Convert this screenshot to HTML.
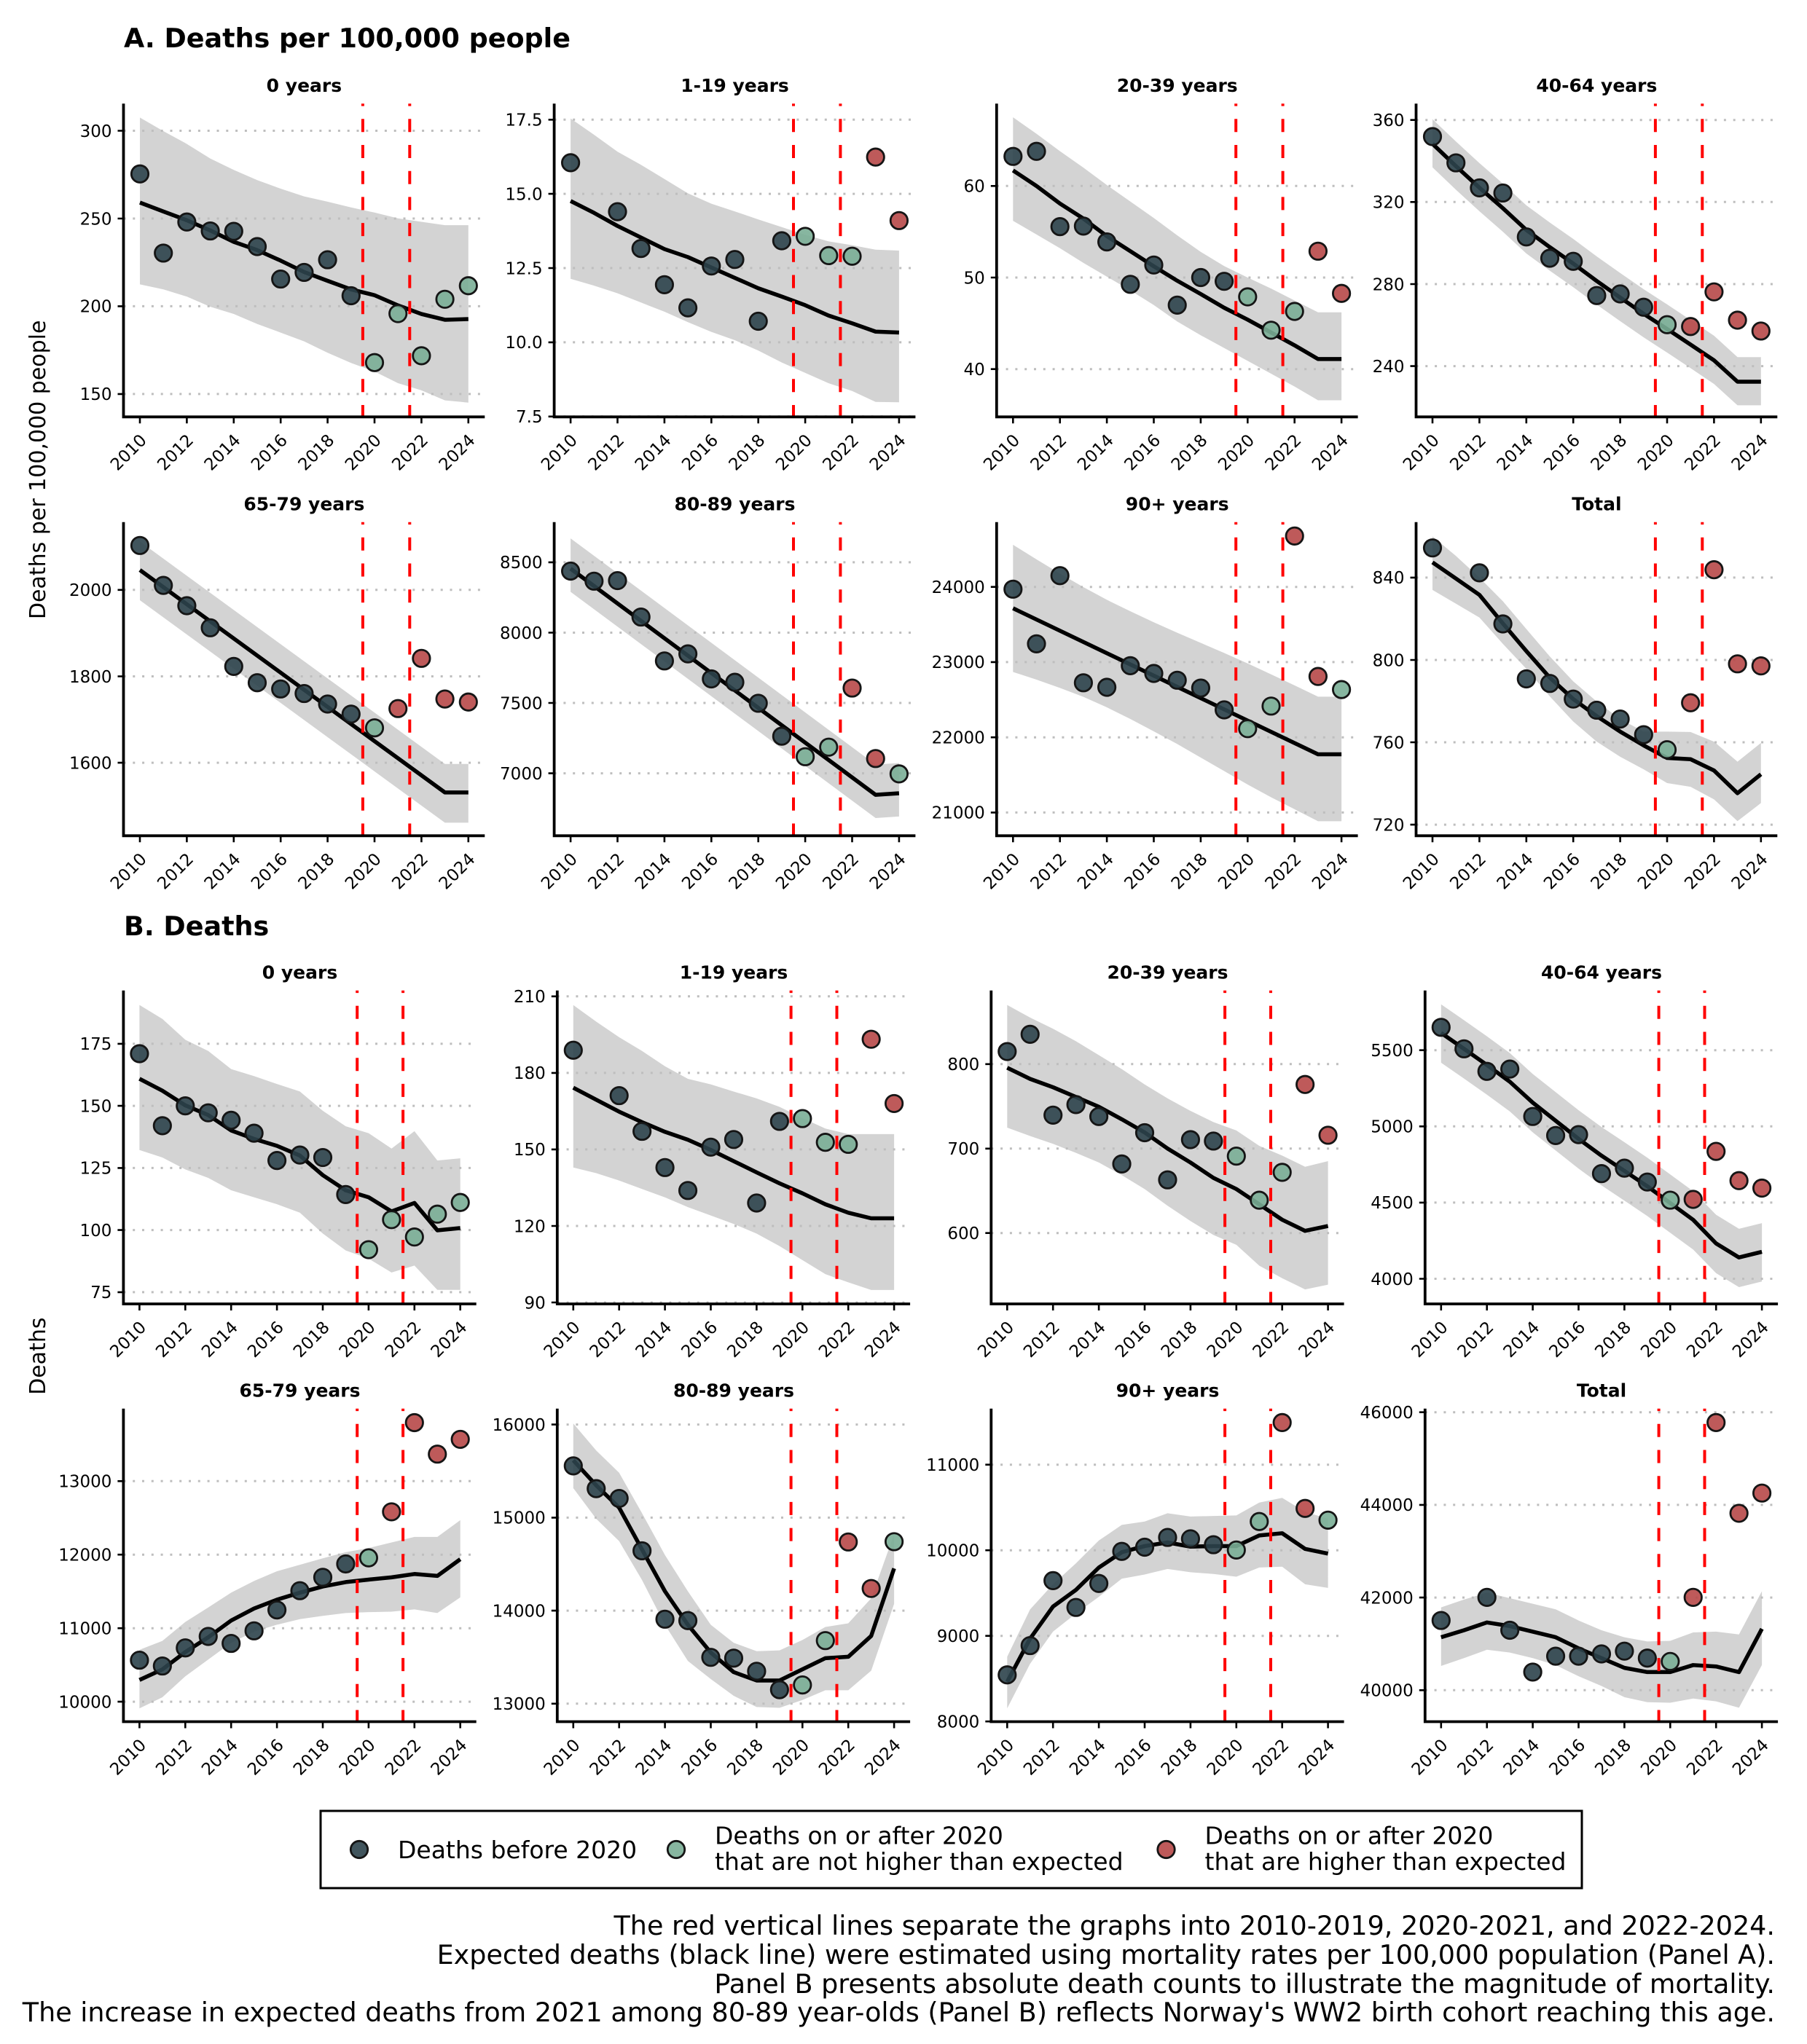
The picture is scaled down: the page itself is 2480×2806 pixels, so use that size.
<!DOCTYPE html>
<html><head><meta charset="utf-8"><style>
html,body{margin:0;padding:0;background:#fff}
svg{display:block}
text{font-family:"DejaVu Sans","Liberation Sans",sans-serif;fill:#000}
.yl{font-size:23px;text-anchor:end}
.xl{font-size:23px;text-anchor:end}
.ft{font-size:25px;font-weight:bold;text-anchor:middle}
.grid{fill:none;stroke:#BEBEBE;stroke-width:3;stroke-dasharray:3 9.8}
.red{fill:none;stroke:#FF0000;stroke-width:4;stroke-dasharray:18 17.7;stroke-dashoffset:14.7}
.rib{fill:#D3D3D3;stroke:none}
.ln{fill:none;stroke:#000;stroke-width:5.5;stroke-linejoin:round}
.ax{fill:none;stroke:#000;stroke-width:3.8}
.tm{fill:none;stroke:#000;stroke-width:2.6}
.d{fill:#2C424B}.g{fill:#7AAE96}.r{fill:#B74848}
.lg{font-size:33px}
.fn{font-size:36.5px;text-anchor:end}
</style></head><body>
<svg width="2480" height="2806" viewBox="0 0 2480 2806" xmlns="http://www.w3.org/2000/svg">
<defs>
<circle id="pt" r="11.7" stroke="#151515" stroke-width="2.8" fill-opacity="0.9"/>
<g id="pA1"><use href="#pt" transform="scale(0.031056,-0.41506)"/></g>
<g id="pA2"><use href="#pt" transform="scale(0.031056,-0.02454)"/></g>
<g id="pA3"><use href="#pt" transform="scale(0.031056,-0.079548)"/></g>
<g id="pA4"><use href="#pt" transform="scale(0.031056,-0.35518)"/></g>
<g id="pA5"><use href="#pt" transform="scale(0.031056,-1.68569)"/></g>
<g id="pA6"><use href="#pt" transform="scale(0.031056,-5.1784)"/></g>
<g id="pA7"><use href="#pt" transform="scale(0.031056,-9.68804)"/></g>
<g id="pA8"><use href="#pt" transform="scale(0.031056,-0.35376)"/></g>
<g id="pB1"><use href="#pt" transform="scale(0.031797,-0.29326)"/></g>
<g id="pB2"><use href="#pt" transform="scale(0.031797,-0.28557)"/></g>
<g id="pB3"><use href="#pt" transform="scale(0.031797,-0.86237)"/></g>
<g id="pB4"><use href="#pt" transform="scale(0.031797,-4.77966)"/></g>
<g id="pB5"><use href="#pt" transform="scale(0.031797,-9.90884)"/></g>
<g id="pB6"><use href="#pt" transform="scale(0.031797,-7.83024)"/></g>
<g id="pB7"><use href="#pt" transform="scale(0.031797,-8.51136)"/></g>
<g id="pB8"><use href="#pt" transform="scale(0.031797,-15.725)"/></g>
</defs>
<rect width="2480" height="2806" fill="#fff"/>

<text x="170" y="65" style="font-size:36.5px;font-weight:bold">A. Deaths per 100,000 people</text>
<text x="170" y="1284" style="font-size:36.5px;font-weight:bold">B. Deaths</text>
<text transform="translate(62,644.8) rotate(-90)" style="font-size:30px;text-anchor:middle">Deaths per 100,000 people</text>
<text transform="translate(62,1861.7) rotate(-90)" style="font-size:30px;text-anchor:middle">Deaths</text>

<!-- ============ A1 ============ -->
<g>
<g transform="matrix(32.2 0 0 -2.4093 192 902.29)"><polygon class="rib" points="0,307.5 1,299.8 2,292.5 3,284.2 4,277.7 5,271.9 6,267 7,262.6 8,259.6 9,256.3 10,253.4 11,250.1 12,248.1 13,246.2 14,246.2 14,145.1 13,146.4 12,152.1 11,156.2 10,162.8 9,167.7 8,173.5 7,180 6,185 5,189.9 4,195.6 3,199.7 2,205.5 1,209.6 0,212.5"/></g>
<path class="grid" d="M169.5 540.9H665.3M169.5 420.4H665.3M169.5 300H665.3M169.5 179.5H665.3"/>
<g transform="matrix(32.2 0 0 -2.4093 192 902.29)"><polyline class="ln" vector-effect="non-scaling-stroke" points="0,259.1 1,254 2,249 3,243.2 4,236.7 5,232 6,226 7,219.5 8,214.5 9,209.6 10,206.3 11,200.5 12,195.6 13,192.3 14,192.7"/></g>
<path class="red" d="M497.9 142.3V572.3M562.3 142.3V572.3"/>
<g transform="matrix(32.2 0 0 -2.4093 192 902.29)">
<use href="#pA1" x="0" y="275.4" class="d"/><use href="#pA1" x="1" y="230.3" class="d"/><use href="#pA1" x="2" y="248" class="d"/><use href="#pA1" x="3" y="242.9" class="d"/><use href="#pA1" x="4" y="242.7" class="d"/><use href="#pA1" x="5" y="234" class="d"/><use href="#pA1" x="6" y="215.5" class="d"/><use href="#pA1" x="7" y="219.3" class="d"/><use href="#pA1" x="8" y="226.5" class="d"/><use href="#pA1" x="9" y="206" class="d"/>
<use href="#pA1" x="10" y="167.9" class="g"/><use href="#pA1" x="11" y="195.8" class="g"/><use href="#pA1" x="12" y="171.8" class="g"/><use href="#pA1" x="13" y="204" class="g"/><use href="#pA1" x="14" y="211.7" class="g"/>
</g>
<path class="ax" d="M169.5 142.3V572.3H665.3"/>
<path class="tm" d="M161.5 540.9H169.5M161.5 420.4H169.5M161.5 300H169.5M161.5 179.5H169.5"/>
<text class="yl" x="153.5" y="549.2">150</text><text class="yl" x="153.5" y="428.7">200</text><text class="yl" x="153.5" y="308.3">250</text><text class="yl" x="153.5" y="187.8">300</text>
<g transform="translate(192,572.3)"><path class="tm" d="M0 0v9M64.4 0v9M128.8 0v9M193.2 0v9M257.6 0v9M322 0v9M386.4 0v9M450.8 0v9"/>
<text class="xl" transform="translate(10.5 33.5) rotate(-45)">2010</text><text class="xl" transform="translate(74.9 33.5) rotate(-45)">2012</text><text class="xl" transform="translate(139.3 33.5) rotate(-45)">2014</text><text class="xl" transform="translate(203.7 33.5) rotate(-45)">2016</text><text class="xl" transform="translate(268.1 33.5) rotate(-45)">2018</text><text class="xl" transform="translate(332.5 33.5) rotate(-45)">2020</text><text class="xl" transform="translate(396.9 33.5) rotate(-45)">2022</text><text class="xl" transform="translate(461.3 33.5) rotate(-45)">2024</text></g>
<text class="ft" x="417.4" y="125.8">0 years</text>
</g>

<!-- ============ A2 ============ -->
<g>
<g transform="matrix(32.2 0 0 -40.75 783.1 877.4)"><polygon class="rib" points="0,17.54 1,16.99 2,16.42 3,15.98 4,15.5 5,15.02 6,14.67 7,14.41 8,14.14 9,13.88 10,13.62 11,13.4 12,13.27 13,13.12 14,13.09 14,7.98 13,7.99 12,8.36 11,8.62 10,8.97 9,9.32 8,9.72 7,10.07 6,10.35 5,10.68 4,11.03 3,11.34 2,11.65 1,11.91 0,12.14"/></g>
<path class="grid" d="M760.6 571.8H1256.4M760.6 469.9H1256.4M760.6 368H1256.4M760.6 266.1H1256.4M760.6 164.3H1256.4"/>
<g transform="matrix(32.2 0 0 -40.75 783.1 877.4)"><polyline class="ln" vector-effect="non-scaling-stroke" points="0,14.76 1,14.36 2,13.92 3,13.53 4,13.14 5,12.87 6,12.52 7,12.17 8,11.82 9,11.54 10,11.25 11,10.9 12,10.64 13,10.36 14,10.33"/></g>
<path class="red" d="M1089 142.3V572.3M1153.4 142.3V572.3"/>
<g transform="matrix(32.2 0 0 -40.75 783.1 877.4)">
<use href="#pA2" x="0" y="16.05" class="d"/><use href="#pA2" x="2" y="14.4" class="d"/><use href="#pA2" x="3" y="13.16" class="d"/><use href="#pA2" x="4" y="11.94" class="d"/><use href="#pA2" x="5" y="11.16" class="d"/><use href="#pA2" x="6" y="12.57" class="d"/><use href="#pA2" x="7" y="12.79" class="d"/><use href="#pA2" x="8" y="10.71" class="d"/><use href="#pA2" x="9" y="13.42" class="d"/>
<use href="#pA2" x="10" y="13.57" class="g"/><use href="#pA2" x="11" y="12.92" class="g"/><use href="#pA2" x="12" y="12.9" class="g"/>
<use href="#pA2" x="13" y="16.24" class="r"/><use href="#pA2" x="14" y="14.1" class="r"/>
</g>
<path class="ax" d="M760.6 142.3V572.3H1256.4"/>
<path class="tm" d="M752.6 571.8H760.6M752.6 469.9H760.6M752.6 368H760.6M752.6 266.1H760.6M752.6 164.3H760.6"/>
<text class="yl" x="744.6" y="580.1">7.5</text><text class="yl" x="744.6" y="478.2">10.0</text><text class="yl" x="744.6" y="376.3">12.5</text><text class="yl" x="744.6" y="274.4">15.0</text><text class="yl" x="744.6" y="172.6">17.5</text>
<g transform="translate(783.1,572.3)"><path class="tm" d="M0 0v9M64.4 0v9M128.8 0v9M193.2 0v9M257.6 0v9M322 0v9M386.4 0v9M450.8 0v9"/>
<text class="xl" transform="translate(10.5 33.5) rotate(-45)">2010</text><text class="xl" transform="translate(74.9 33.5) rotate(-45)">2012</text><text class="xl" transform="translate(139.3 33.5) rotate(-45)">2014</text><text class="xl" transform="translate(203.7 33.5) rotate(-45)">2016</text><text class="xl" transform="translate(268.1 33.5) rotate(-45)">2018</text><text class="xl" transform="translate(332.5 33.5) rotate(-45)">2020</text><text class="xl" transform="translate(396.9 33.5) rotate(-45)">2022</text><text class="xl" transform="translate(461.3 33.5) rotate(-45)">2024</text></g>
<text class="ft" x="1008.5" y="125.8">1-19 years</text>
</g>

<!-- ============ A3 ============ -->
<g>
<g transform="matrix(32.2 0 0 -12.571 1390.3 1009.56)"><polygon class="rib" points="0,67.5 1,65.7 2,63.8 3,62 4,60.1 5,58.3 6,56.5 7,54.6 8,52.8 9,51.25 10,50 11,48.8 12,47.5 13,46.2 14,46.2 14,36.6 13,36.6 12,38.1 11,39.5 10,40.9 9,42.3 8,43.7 7,45.2 6,47 5,48.6 4,50.1 3,51.6 2,53.2 1,54.7 0,56.2"/></g>
<path class="grid" d="M1367.8 506.7H1863.6M1367.8 381H1863.6M1367.8 255.3H1863.6"/>
<g transform="matrix(32.2 0 0 -12.571 1390.3 1009.56)"><polyline class="ln" vector-effect="non-scaling-stroke" points="0,61.7 1,60 2,58.08 3,56.44 4,54.52 5,52.88 6,51.23 7,49.65 8,48.2 9,46.7 10,45.4 11,44 12,42.6 13,41.1 14,41.1"/></g>
<path class="red" d="M1696.2 142.3V572.3M1760.6 142.3V572.3"/>
<g transform="matrix(32.2 0 0 -12.571 1390.3 1009.56)">
<use href="#pA3" x="0" y="63.23" class="d"/><use href="#pA3" x="1" y="63.78" class="d"/><use href="#pA3" x="2" y="55.56" class="d"/><use href="#pA3" x="3" y="55.62" class="d"/><use href="#pA3" x="4" y="53.89" class="d"/><use href="#pA3" x="5" y="49.26" class="d"/><use href="#pA3" x="6" y="51.37" class="d"/><use href="#pA3" x="7" y="46.99" class="d"/><use href="#pA3" x="8" y="50" class="d"/><use href="#pA3" x="9" y="49.59" class="d"/>
<use href="#pA3" x="10" y="47.89" class="g"/><use href="#pA3" x="11" y="44.25" class="g"/><use href="#pA3" x="12" y="46.3" class="g"/>
<use href="#pA3" x="13" y="52.88" class="r"/><use href="#pA3" x="14" y="48.27" class="r"/>
</g>
<path class="ax" d="M1367.8 142.3V572.3H1863.6"/>
<path class="tm" d="M1359.8 506.7H1367.8M1359.8 381H1367.8M1359.8 255.3H1367.8"/>
<text class="yl" x="1351.8" y="515">40</text><text class="yl" x="1351.8" y="389.3">50</text><text class="yl" x="1351.8" y="263.6">60</text>
<g transform="translate(1390.3,572.3)"><path class="tm" d="M0 0v9M64.4 0v9M128.8 0v9M193.2 0v9M257.6 0v9M322 0v9M386.4 0v9M450.8 0v9"/>
<text class="xl" transform="translate(10.5 33.5) rotate(-45)">2010</text><text class="xl" transform="translate(74.9 33.5) rotate(-45)">2012</text><text class="xl" transform="translate(139.3 33.5) rotate(-45)">2014</text><text class="xl" transform="translate(203.7 33.5) rotate(-45)">2016</text><text class="xl" transform="translate(268.1 33.5) rotate(-45)">2018</text><text class="xl" transform="translate(332.5 33.5) rotate(-45)">2020</text><text class="xl" transform="translate(396.9 33.5) rotate(-45)">2022</text><text class="xl" transform="translate(461.3 33.5) rotate(-45)">2024</text></g>
<text class="ft" x="1615.7" y="125.8">20-39 years</text>
</g>

<!-- ============ A4 ============ -->
<g>
<g transform="matrix(32.2 0 0 -2.8155 1966 1178.31)"><polygon class="rib" points="0,360.4 1,349.5 2,339 3,329 4,318.4 5,310 6,302 7,293.5 8,285.4 9,277.5 10,270.1 11,262.5 12,254.8 13,244.4 14,244.4 14,220.9 13,220.9 12,231.3 11,239 10,246.6 9,254 8,261.9 7,270 6,278.5 5,286.5 4,294.9 3,305.5 2,315.5 1,326 0,336.9"/></g>
<path class="grid" d="M1943.5 502.6H2439.3M1943.5 390H2439.3M1943.5 277.3H2439.3M1943.5 164.7H2439.3"/>
<g transform="matrix(32.2 0 0 -2.8155 1966 1178.31)"><polyline class="ln" vector-effect="non-scaling-stroke" points="0,348.4 1,337.5 2,327 3,317 4,306.4 5,298 6,290 7,281.5 8,273.4 9,265.5 10,258.1 11,250.5 12,242.8 13,232.4 14,232.4"/></g>
<path class="red" d="M2271.9 142.3V572.3M2336.3 142.3V572.3"/>
<g transform="matrix(32.2 0 0 -2.8155 1966 1178.31)">
<use href="#pA4" x="0" y="351.9" class="d"/><use href="#pA4" x="1" y="339.1" class="d"/><use href="#pA4" x="2" y="326.9" class="d"/><use href="#pA4" x="3" y="324.4" class="d"/><use href="#pA4" x="4" y="303" class="d"/><use href="#pA4" x="5" y="292.6" class="d"/><use href="#pA4" x="6" y="291.1" class="d"/><use href="#pA4" x="7" y="274.4" class="d"/><use href="#pA4" x="8" y="275.2" class="d"/><use href="#pA4" x="9" y="268.7" class="d"/>
<use href="#pA4" x="10" y="260.2" class="g"/>
<use href="#pA4" x="11" y="259.3" class="r"/><use href="#pA4" x="12" y="276.2" class="r"/><use href="#pA4" x="13" y="262.4" class="r"/><use href="#pA4" x="14" y="257.1" class="r"/>
</g>
<path class="ax" d="M1943.5 142.3V572.3H2439.3"/>
<path class="tm" d="M1935.5 502.6H1943.5M1935.5 390H1943.5M1935.5 277.3H1943.5M1935.5 164.7H1943.5"/>
<text class="yl" x="1927.5" y="510.9">240</text><text class="yl" x="1927.5" y="398.3">280</text><text class="yl" x="1927.5" y="285.6">320</text><text class="yl" x="1927.5" y="173">360</text>
<g transform="translate(1966,572.3)"><path class="tm" d="M0 0v9M64.4 0v9M128.8 0v9M193.2 0v9M257.6 0v9M322 0v9M386.4 0v9M450.8 0v9"/>
<text class="xl" transform="translate(10.5 33.5) rotate(-45)">2010</text><text class="xl" transform="translate(74.9 33.5) rotate(-45)">2012</text><text class="xl" transform="translate(139.3 33.5) rotate(-45)">2014</text><text class="xl" transform="translate(203.7 33.5) rotate(-45)">2016</text><text class="xl" transform="translate(268.1 33.5) rotate(-45)">2018</text><text class="xl" transform="translate(332.5 33.5) rotate(-45)">2020</text><text class="xl" transform="translate(396.9 33.5) rotate(-45)">2022</text><text class="xl" transform="translate(461.3 33.5) rotate(-45)">2024</text></g>
<text class="ft" x="2191.4" y="125.8">40-64 years</text>
</g>

<!-- ============ A5 ============ -->
<g>
<g transform="matrix(32.2 0 0 -0.59323 192 1996.26)"><polygon class="rib" points="0,2112 13,1597.2 14,1597.2 14,1461.2 13,1461.2 0,1976"/></g>
<path class="grid" d="M169.5 1047.1H665.3M169.5 928.5H665.3M169.5 809.8H665.3"/>
<g transform="matrix(32.2 0 0 -0.59323 192 1996.26)"><polyline class="ln" vector-effect="non-scaling-stroke" points="0,2046 13,1531.2 14,1531.2"/></g>
<path class="red" d="M497.9 716.8V1147.3M562.3 716.8V1147.3"/>
<g transform="matrix(32.2 0 0 -0.59323 192 1996.26)">
<use href="#pA5" x="0" y="2102.8" class="d"/><use href="#pA5" x="1" y="2010.4" class="d"/><use href="#pA5" x="2" y="1963.4" class="d"/><use href="#pA5" x="3" y="1912.3" class="d"/><use href="#pA5" x="4" y="1822.9" class="d"/><use href="#pA5" x="5" y="1785.2" class="d"/><use href="#pA5" x="6" y="1770.7" class="d"/><use href="#pA5" x="7" y="1760.2" class="d"/><use href="#pA5" x="8" y="1735.9" class="d"/><use href="#pA5" x="9" y="1712.6" class="d"/>
<use href="#pA5" x="10" y="1680.7" class="g"/>
<use href="#pA5" x="11" y="1725.4" class="r"/><use href="#pA5" x="12" y="1841.5" class="r"/><use href="#pA5" x="13" y="1747.5" class="r"/><use href="#pA5" x="14" y="1740.5" class="r"/>
</g>
<path class="ax" d="M169.5 716.8V1147.3H665.3"/>
<path class="tm" d="M161.5 1047.1H169.5M161.5 928.5H169.5M161.5 809.8H169.5"/>
<text class="yl" x="153.5" y="1055.4">1600</text><text class="yl" x="153.5" y="936.8">1800</text><text class="yl" x="153.5" y="818.1">2000</text>
<g transform="translate(192,1147.3)"><path class="tm" d="M0 0v9M64.4 0v9M128.8 0v9M193.2 0v9M257.6 0v9M322 0v9M386.4 0v9M450.8 0v9"/>
<text class="xl" transform="translate(10.5 33.5) rotate(-45)">2010</text><text class="xl" transform="translate(74.9 33.5) rotate(-45)">2012</text><text class="xl" transform="translate(139.3 33.5) rotate(-45)">2014</text><text class="xl" transform="translate(203.7 33.5) rotate(-45)">2016</text><text class="xl" transform="translate(268.1 33.5) rotate(-45)">2018</text><text class="xl" transform="translate(332.5 33.5) rotate(-45)">2020</text><text class="xl" transform="translate(396.9 33.5) rotate(-45)">2022</text><text class="xl" transform="translate(461.3 33.5) rotate(-45)">2024</text></g>
<text class="ft" x="417.4" y="700.3">65-79 years</text>
</g>

<!-- ============ A6 ============ -->
<g>
<g transform="matrix(32.2 0 0 -0.19311 783.1 2413.37)"><polygon class="rib" points="0,8670 13,7062 14,7073 14,6693 13,6682 0,8290"/></g>
<path class="grid" d="M760.6 1061.6H1256.4M760.6 965H1256.4M760.6 868.5H1256.4M760.6 771.9H1256.4"/>
<g transform="matrix(32.2 0 0 -0.19311 783.1 2413.37)"><polyline class="ln" vector-effect="non-scaling-stroke" points="0,8455 13,6847 14,6858"/></g>
<path class="red" d="M1089 716.8V1147.3M1153.4 716.8V1147.3"/>
<g transform="matrix(32.2 0 0 -0.19311 783.1 2413.37)">
<use href="#pA6" x="0" y="8437.6" class="d"/><use href="#pA6" x="1" y="8366" class="d"/><use href="#pA6" x="2" y="8370" class="d"/><use href="#pA6" x="3" y="8111" class="d"/><use href="#pA6" x="4" y="7799" class="d"/><use href="#pA6" x="5" y="7849" class="d"/><use href="#pA6" x="6" y="7671" class="d"/><use href="#pA6" x="7" y="7647" class="d"/><use href="#pA6" x="8" y="7498" class="d"/><use href="#pA6" x="9" y="7264" class="d"/>
<use href="#pA6" x="10" y="7118" class="g"/><use href="#pA6" x="11" y="7186" class="g"/>
<use href="#pA6" x="12" y="7606" class="r"/><use href="#pA6" x="13" y="7105" class="r"/>
<use href="#pA6" x="14" y="6996" class="g"/>
</g>
<path class="ax" d="M760.6 716.8V1147.3H1256.4"/>
<path class="tm" d="M752.6 1061.6H760.6M752.6 965H760.6M752.6 868.5H760.6M752.6 771.9H760.6"/>
<text class="yl" x="744.6" y="1069.9">7000</text><text class="yl" x="744.6" y="973.3">7500</text><text class="yl" x="744.6" y="876.8">8000</text><text class="yl" x="744.6" y="780.2">8500</text>
<g transform="translate(783.1,1147.3)"><path class="tm" d="M0 0v9M64.4 0v9M128.8 0v9M193.2 0v9M257.6 0v9M322 0v9M386.4 0v9M450.8 0v9"/>
<text class="xl" transform="translate(10.5 33.5) rotate(-45)">2010</text><text class="xl" transform="translate(74.9 33.5) rotate(-45)">2012</text><text class="xl" transform="translate(139.3 33.5) rotate(-45)">2014</text><text class="xl" transform="translate(203.7 33.5) rotate(-45)">2016</text><text class="xl" transform="translate(268.1 33.5) rotate(-45)">2018</text><text class="xl" transform="translate(332.5 33.5) rotate(-45)">2020</text><text class="xl" transform="translate(396.9 33.5) rotate(-45)">2022</text><text class="xl" transform="translate(461.3 33.5) rotate(-45)">2024</text></g>
<text class="ft" x="1008.5" y="700.3">80-89 years</text>
</g>

<!-- ============ A7 ============ -->
<g>
<g transform="matrix(32.2 0 0 -0.10322 1390.3 3283)"><polygon class="rib" points="0,24561 1,24366.6 2,24177.2 3,23997.8 4,23828.4 5,23676 6,23529.6 7,23390.2 8,23255.8 9,23121.4 10,22982 11,22837.6 12,22690.2 13,22540.8 14,22541 14,20884 13,20883.8 12,21043.2 11,21202.6 10,21372 9,21551.4 8,21730.8 7,21910.2 6,22079.6 5,22244 4,22398.4 3,22537.8 2,22657.2 1,22766.6 0,22869"/></g>
<path class="grid" d="M1367.8 1115.4H1863.6M1367.8 1012.2H1863.6M1367.8 908.9H1863.6M1367.8 805.7H1863.6"/>
<g transform="matrix(32.2 0 0 -0.10322 1390.3 3283)"><polyline class="ln" vector-effect="non-scaling-stroke" points="0,23716 13,21774 14,21774"/></g>
<path class="red" d="M1696.2 716.8V1147.3M1760.6 716.8V1147.3"/>
<g transform="matrix(32.2 0 0 -0.10322 1390.3 3283)">
<use href="#pA7" x="0" y="23970" class="d"/><use href="#pA7" x="1" y="23243" class="d"/><use href="#pA7" x="2" y="24150" class="d"/><use href="#pA7" x="3" y="22725" class="d"/><use href="#pA7" x="4" y="22665" class="d"/><use href="#pA7" x="5" y="22952" class="d"/><use href="#pA7" x="6" y="22849" class="d"/><use href="#pA7" x="7" y="22759" class="d"/><use href="#pA7" x="8" y="22655" class="d"/><use href="#pA7" x="9" y="22365" class="d"/>
<use href="#pA7" x="10" y="22115" class="g"/><use href="#pA7" x="11" y="22415" class="g"/>
<use href="#pA7" x="12" y="24677" class="r"/><use href="#pA7" x="13" y="22809" class="r"/>
<use href="#pA7" x="14" y="22635" class="g"/>
</g>
<path class="ax" d="M1367.8 716.8V1147.3H1863.6"/>
<path class="tm" d="M1359.8 1115.4H1367.8M1359.8 1012.2H1367.8M1359.8 908.9H1367.8M1359.8 805.7H1367.8"/>
<text class="yl" x="1351.8" y="1123.7">21000</text><text class="yl" x="1351.8" y="1020.5">22000</text><text class="yl" x="1351.8" y="917.2">23000</text><text class="yl" x="1351.8" y="814">24000</text>
<g transform="translate(1390.3,1147.3)"><path class="tm" d="M0 0v9M64.4 0v9M128.8 0v9M193.2 0v9M257.6 0v9M322 0v9M386.4 0v9M450.8 0v9"/>
<text class="xl" transform="translate(10.5 33.5) rotate(-45)">2010</text><text class="xl" transform="translate(74.9 33.5) rotate(-45)">2012</text><text class="xl" transform="translate(139.3 33.5) rotate(-45)">2014</text><text class="xl" transform="translate(203.7 33.5) rotate(-45)">2016</text><text class="xl" transform="translate(268.1 33.5) rotate(-45)">2018</text><text class="xl" transform="translate(332.5 33.5) rotate(-45)">2020</text><text class="xl" transform="translate(396.9 33.5) rotate(-45)">2022</text><text class="xl" transform="translate(461.3 33.5) rotate(-45)">2024</text></g>
<text class="ft" x="1615.7" y="700.3">90+ years</text>
</g>

<!-- ============ A8 ============ -->
<g>
<g transform="matrix(32.2 0 0 -2.8268 1966 3167.4)"><polygon class="rib" points="0,860 1,850.5 2,840 3,828.5 4,815 5,801.7 6,789.6 7,779.8 8,771.3 9,765.2 10,765.2 11,765 12,760.3 13,750.6 14,759.7 14,730.5 13,721.7 12,732.3 11,738.4 10,740.2 9,746.9 8,753 7,760.3 6,770.1 5,782.3 4,795.7 3,807.8 2,820.6 1,827.3 0,834"/></g>
<path class="grid" d="M1943.5 1132.1H2439.3M1943.5 1019H2439.3M1943.5 906H2439.3M1943.5 792.9H2439.3"/>
<g transform="matrix(32.2 0 0 -2.8268 1966 3167.4)"><polyline class="ln" vector-effect="non-scaling-stroke" points="0,847.4 1,839.5 2,831.6 3,817.7 4,804.3 5,791.4 6,781 7,772.7 8,765.2 9,758.5 10,752.4 11,751.8 12,746.3 13,735.3 14,744.5"/></g>
<path class="red" d="M2271.9 716.8V1147.3M2336.3 716.8V1147.3"/>
<g transform="matrix(32.2 0 0 -2.8268 1966 3167.4)">
<use href="#pA8" x="0" y="854.4" class="d"/><use href="#pA8" x="2" y="842.3" class="d"/><use href="#pA8" x="3" y="817.5" class="d"/><use href="#pA8" x="4" y="790.8" class="d"/><use href="#pA8" x="5" y="788.6" class="d"/><use href="#pA8" x="6" y="781" class="d"/><use href="#pA8" x="7" y="775.6" class="d"/><use href="#pA8" x="8" y="771.3" class="d"/><use href="#pA8" x="9" y="763.7" class="d"/>
<use href="#pA8" x="10" y="756.4" class="g"/>
<use href="#pA8" x="11" y="779.2" class="r"/><use href="#pA8" x="12" y="843.8" class="r"/><use href="#pA8" x="13" y="798.1" class="r"/><use href="#pA8" x="14" y="797.1" class="r"/>
</g>
<path class="ax" d="M1943.5 716.8V1147.3H2439.3"/>
<path class="tm" d="M1935.5 1132.1H1943.5M1935.5 1019H1943.5M1935.5 906H1943.5M1935.5 792.9H1943.5"/>
<text class="yl" x="1927.5" y="1140.4">720</text><text class="yl" x="1927.5" y="1027.3">760</text><text class="yl" x="1927.5" y="914.3">800</text><text class="yl" x="1927.5" y="801.2">840</text>
<g transform="translate(1966,1147.3)"><path class="tm" d="M0 0v9M64.4 0v9M128.8 0v9M193.2 0v9M257.6 0v9M322 0v9M386.4 0v9M450.8 0v9"/>
<text class="xl" transform="translate(10.5 33.5) rotate(-45)">2010</text><text class="xl" transform="translate(74.9 33.5) rotate(-45)">2012</text><text class="xl" transform="translate(139.3 33.5) rotate(-45)">2014</text><text class="xl" transform="translate(203.7 33.5) rotate(-45)">2016</text><text class="xl" transform="translate(268.1 33.5) rotate(-45)">2018</text><text class="xl" transform="translate(332.5 33.5) rotate(-45)">2020</text><text class="xl" transform="translate(396.9 33.5) rotate(-45)">2022</text><text class="xl" transform="translate(461.3 33.5) rotate(-45)">2024</text></g>
<text class="ft" x="2191.4" y="700.3">Total</text>
</g>

<!-- ============ B1 ============ -->
<g>
<g transform="matrix(31.45 0 0 -3.4099 191.4 2029.6)"><polygon class="rib" points="0,190.6 1,185 2,176.6 3,172.1 4,164.8 5,162 6,158.8 7,155.8 8,148 9,141.8 10,139 11,132.8 12,139.8 13,128 14,128.9 14,75.9 13,75.9 12,85.7 11,82.9 10,88.5 9,91.8 8,98.6 7,107 6,110.4 5,113.2 4,116 3,121 2,124.4 1,129.2 0,132.2"/></g>
<path class="grid" d="M169.4 1773.9H653.7M169.4 1688.6H653.7M169.4 1603.4H653.7M169.4 1518.1H653.7M169.4 1432.9H653.7"/>
<g transform="matrix(31.45 0 0 -3.4099 191.4 2029.6)"><polyline class="ln" vector-effect="non-scaling-stroke" points="0,160.9 1,156.1 2,150.2 3,146.3 4,140.1 5,136.7 6,133.9 7,130 8,122.1 9,116 10,113.2 11,107.5 12,110.9 13,99.9 14,100.8"/></g>
<path class="red" d="M490.2 1359.8V1790M553.1 1359.8V1790"/>
<g transform="matrix(31.45 0 0 -3.4099 191.4 2029.6)">
<use href="#pB1" x="0" y="171" class="d"/><use href="#pB1" x="1" y="142" class="d"/><use href="#pB1" x="2" y="150" class="d"/><use href="#pB1" x="3" y="147.2" class="d"/><use href="#pB1" x="4" y="144.2" class="d"/><use href="#pB1" x="5" y="139" class="d"/><use href="#pB1" x="6" y="128" class="d"/><use href="#pB1" x="7" y="130.2" class="d"/><use href="#pB1" x="8" y="129.2" class="d"/><use href="#pB1" x="9" y="114.3" class="d"/>
<use href="#pB1" x="10" y="92.1" class="g"/><use href="#pB1" x="11" y="104.2" class="g"/><use href="#pB1" x="12" y="97.2" class="g"/><use href="#pB1" x="13" y="106.4" class="g"/><use href="#pB1" x="14" y="111.1" class="g"/>
</g>
<path class="ax" d="M169.4 1359.8V1790H653.7"/>
<path class="tm" d="M161.4 1773.9H169.4M161.4 1688.6H169.4M161.4 1603.4H169.4M161.4 1518.1H169.4M161.4 1432.9H169.4"/>
<text class="yl" x="153.4" y="1782.2">75</text><text class="yl" x="153.4" y="1696.9">100</text><text class="yl" x="153.4" y="1611.7">125</text><text class="yl" x="153.4" y="1526.4">150</text><text class="yl" x="153.4" y="1441.2">175</text>
<g transform="translate(191.4,1790)"><path class="tm" d="M0 0v9M62.9 0v9M125.8 0v9M188.7 0v9M251.6 0v9M314.5 0v9M377.4 0v9M440.3 0v9"/>
<text class="xl" transform="translate(10.5 33.5) rotate(-45)">2010</text><text class="xl" transform="translate(73.4 33.5) rotate(-45)">2012</text><text class="xl" transform="translate(136.3 33.5) rotate(-45)">2014</text><text class="xl" transform="translate(199.2 33.5) rotate(-45)">2016</text><text class="xl" transform="translate(262.1 33.5) rotate(-45)">2018</text><text class="xl" transform="translate(325 33.5) rotate(-45)">2020</text><text class="xl" transform="translate(387.9 33.5) rotate(-45)">2022</text><text class="xl" transform="translate(450.8 33.5) rotate(-45)">2024</text></g>
<text class="ft" x="411.5" y="1343.3">0 years</text>
</g>

<!-- ============ B2 ============ -->
<g>
<g transform="matrix(31.45 0 0 -3.5017 786.8 2103.2)"><polygon class="rib" points="0,206.6 1,200.1 2,194 3,188.6 4,182.6 5,177.7 6,175.5 7,172.7 8,170 9,166.7 10,162.3 11,158.2 12,156 13,156 14,156 14,94.9 13,94.9 12,97.9 11,101.1 10,106.6 9,112.1 8,117 7,120.8 6,124.1 5,127.4 4,131.2 3,134.5 2,137.8 1,140.7 0,142.9"/></g>
<path class="grid" d="M764.8 1788H1249.1M764.8 1683H1249.1M764.8 1577.9H1249.1M764.8 1472.9H1249.1M764.8 1367.8H1249.1"/>
<g transform="matrix(31.45 0 0 -3.5017 786.8 2103.2)"><polyline class="ln" vector-effect="non-scaling-stroke" points="0,174.2 1,169.5 2,164.8 3,160.7 4,156.9 5,153.8 6,149.8 7,145.4 8,141 9,136.7 10,132.8 11,128.5 12,125.2 13,123 14,123"/></g>
<path class="red" d="M1085.6 1359.8V1790M1148.5 1359.8V1790"/>
<g transform="matrix(31.45 0 0 -3.5017 786.8 2103.2)">
<use href="#pB2" x="0" y="188.9" class="d"/><use href="#pB2" x="2" y="171.1" class="d"/><use href="#pB2" x="3" y="157.1" class="d"/><use href="#pB2" x="4" y="142.9" class="d"/><use href="#pB2" x="5" y="133.9" class="d"/><use href="#pB2" x="6" y="150.9" class="d"/><use href="#pB2" x="7" y="153.9" class="d"/><use href="#pB2" x="8" y="129" class="d"/><use href="#pB2" x="9" y="161" class="d"/>
<use href="#pB2" x="10" y="162.1" class="g"/><use href="#pB2" x="11" y="152.8" class="g"/><use href="#pB2" x="12" y="152" class="g"/>
<use href="#pB2" x="13" y="193.2" class="r"/><use href="#pB2" x="14" y="168" class="r"/>
</g>
<path class="ax" d="M764.8 1359.8V1790H1249.1"/>
<path class="tm" d="M756.8 1788H764.8M756.8 1683H764.8M756.8 1577.9H764.8M756.8 1472.9H764.8M756.8 1367.8H764.8"/>
<text class="yl" x="748.8" y="1796.3">90</text><text class="yl" x="748.8" y="1691.3">120</text><text class="yl" x="748.8" y="1586.2">150</text><text class="yl" x="748.8" y="1481.2">180</text><text class="yl" x="748.8" y="1376.1">210</text>
<g transform="translate(786.8,1790)"><path class="tm" d="M0 0v9M62.9 0v9M125.8 0v9M188.7 0v9M251.6 0v9M314.5 0v9M377.4 0v9M440.3 0v9"/>
<text class="xl" transform="translate(10.5 33.5) rotate(-45)">2010</text><text class="xl" transform="translate(73.4 33.5) rotate(-45)">2012</text><text class="xl" transform="translate(136.3 33.5) rotate(-45)">2014</text><text class="xl" transform="translate(199.2 33.5) rotate(-45)">2016</text><text class="xl" transform="translate(262.1 33.5) rotate(-45)">2018</text><text class="xl" transform="translate(325 33.5) rotate(-45)">2020</text><text class="xl" transform="translate(387.9 33.5) rotate(-45)">2022</text><text class="xl" transform="translate(450.8 33.5) rotate(-45)">2024</text></g>
<text class="ft" x="1007" y="1343.3">1-19 years</text>
</g>

<!-- ============ B3 ============ -->
<g>
<g transform="matrix(31.45 0 0 -1.1596 1382.3 2388.5)"><polygon class="rib" points="0,870 1,855.1 2,841.9 3,827.1 4,810.6 5,794.1 6,775.9 7,759.4 8,744.6 9,731.4 10,721.5 11,703.3 12,691.7 13,678.5 14,685.1 14,538.9 13,533.3 12,546.5 11,561.4 10,586.1 9,597.7 8,614.2 7,632.3 6,652.1 5,668.6 4,683.5 3,695 2,705.6 1,714.9 0,724.8"/></g>
<path class="grid" d="M1360.3 1692.7H1844.6M1360.3 1576.8H1844.6M1360.3 1460.8H1844.6"/>
<g transform="matrix(31.45 0 0 -1.1596 1382.3 2388.5)"><polyline class="ln" vector-effect="non-scaling-stroke" points="0,795.7 1,782.5 2,772.6 3,761.1 4,749.5 5,734.7 6,719.1 7,700 8,683.5 9,665.3 10,652.1 11,634 12,615.8 13,602.6 14,608.3"/></g>
<path class="red" d="M1681.1 1359.8V1790M1744 1359.8V1790"/>
<g transform="matrix(31.45 0 0 -1.1596 1382.3 2388.5)">
<use href="#pB3" x="0" y="814.9" class="d"/><use href="#pB3" x="1" y="835.3" class="d"/><use href="#pB3" x="2" y="739.6" class="d"/><use href="#pB3" x="3" y="752.1" class="d"/><use href="#pB3" x="4" y="738" class="d"/><use href="#pB3" x="5" y="681.8" class="d"/><use href="#pB3" x="6" y="718.8" class="d"/><use href="#pB3" x="7" y="663" class="d"/><use href="#pB3" x="8" y="710.6" class="d"/><use href="#pB3" x="9" y="708.9" class="d"/>
<use href="#pB3" x="10" y="691.1" class="g"/><use href="#pB3" x="11" y="638.9" class="g"/><use href="#pB3" x="12" y="671.9" class="g"/>
<use href="#pB3" x="13" y="775.9" class="r"/><use href="#pB3" x="14" y="715.8" class="r"/>
</g>
<path class="ax" d="M1360.3 1359.8V1790H1844.6"/>
<path class="tm" d="M1352.3 1692.7H1360.3M1352.3 1576.8H1360.3M1352.3 1460.8H1360.3"/>
<text class="yl" x="1344.3" y="1701">600</text><text class="yl" x="1344.3" y="1585.1">700</text><text class="yl" x="1344.3" y="1469.1">800</text>
<g transform="translate(1382.3,1790)"><path class="tm" d="M0 0v9M62.9 0v9M125.8 0v9M188.7 0v9M251.6 0v9M314.5 0v9M377.4 0v9M440.3 0v9"/>
<text class="xl" transform="translate(10.5 33.5) rotate(-45)">2010</text><text class="xl" transform="translate(73.4 33.5) rotate(-45)">2012</text><text class="xl" transform="translate(136.3 33.5) rotate(-45)">2014</text><text class="xl" transform="translate(199.2 33.5) rotate(-45)">2016</text><text class="xl" transform="translate(262.1 33.5) rotate(-45)">2018</text><text class="xl" transform="translate(325 33.5) rotate(-45)">2020</text><text class="xl" transform="translate(387.9 33.5) rotate(-45)">2022</text><text class="xl" transform="translate(450.8 33.5) rotate(-45)">2024</text></g>
<text class="ft" x="1602.5" y="1343.3">20-39 years</text>
</g>

<!-- ============ B4 ============ -->
<g>
<g transform="matrix(31.45 0 0 -0.20922 1977.8 2592.4)"><polygon class="rib" points="0,5801 1,5697 2,5591 3,5481 4,5344 5,5225 6,5106 7,4996 8,4896 9,4795 10,4685 11,4575 12,4420 13,4328 14,4365 14,3982 13,3945 12,4037 11,4192 10,4302 9,4412 8,4513 7,4613 6,4723 5,4842 4,4961 3,5098 2,5208 1,5314 0,5418"/></g>
<path class="grid" d="M1955.8 1755.5H2440.1M1955.8 1650.9H2440.1M1955.8 1546.3H2440.1M1955.8 1441.7H2440.1"/>
<g transform="matrix(31.45 0 0 -0.20922 1977.8 2592.4)"><polyline class="ln" vector-effect="non-scaling-stroke" points="0,5613 1,5509 2,5403 3,5293 4,5156 5,5037 6,4918 7,4808 8,4708 9,4607 10,4497 11,4387 12,4232 13,4140 14,4177"/></g>
<path class="red" d="M2276.6 1359.8V1790M2339.5 1359.8V1790"/>
<g transform="matrix(31.45 0 0 -0.20922 1977.8 2592.4)">
<use href="#pB4" x="0" y="5650" class="d"/><use href="#pB4" x="1" y="5509" class="d"/><use href="#pB4" x="2" y="5361" class="d"/><use href="#pB4" x="3" y="5376" class="d"/><use href="#pB4" x="4" y="5065" class="d"/><use href="#pB4" x="5" y="4940" class="d"/><use href="#pB4" x="6" y="4946" class="d"/><use href="#pB4" x="7" y="4690" class="d"/><use href="#pB4" x="8" y="4726" class="d"/><use href="#pB4" x="9" y="4635" class="d"/>
<use href="#pB4" x="10" y="4516" class="g"/>
<use href="#pB4" x="11" y="4521" class="r"/><use href="#pB4" x="12" y="4836" class="r"/><use href="#pB4" x="13" y="4644" class="r"/><use href="#pB4" x="14" y="4595" class="r"/>
</g>
<path class="ax" d="M1955.8 1359.8V1790H2440.1"/>
<path class="tm" d="M1947.8 1755.5H1955.8M1947.8 1650.9H1955.8M1947.8 1546.3H1955.8M1947.8 1441.7H1955.8"/>
<text class="yl" x="1939.8" y="1763.8">4000</text><text class="yl" x="1939.8" y="1659.2">4500</text><text class="yl" x="1939.8" y="1554.6">5000</text><text class="yl" x="1939.8" y="1450">5500</text>
<g transform="translate(1977.8,1790)"><path class="tm" d="M0 0v9M62.9 0v9M125.8 0v9M188.7 0v9M251.6 0v9M314.5 0v9M377.4 0v9M440.3 0v9"/>
<text class="xl" transform="translate(10.5 33.5) rotate(-45)">2010</text><text class="xl" transform="translate(73.4 33.5) rotate(-45)">2012</text><text class="xl" transform="translate(136.3 33.5) rotate(-45)">2014</text><text class="xl" transform="translate(199.2 33.5) rotate(-45)">2016</text><text class="xl" transform="translate(262.1 33.5) rotate(-45)">2018</text><text class="xl" transform="translate(325 33.5) rotate(-45)">2020</text><text class="xl" transform="translate(387.9 33.5) rotate(-45)">2022</text><text class="xl" transform="translate(450.8 33.5) rotate(-45)">2024</text></g>
<text class="ft" x="2198" y="1343.3">40-64 years</text>
</g>

<!-- ============ B5 ============ -->
<g>
<g transform="matrix(31.45 0 0 -0.10092 191.4 3345.3)"><polygon class="rib" points="0,10706 1,10827 2,11085 3,11282 4,11483 5,11642 6,11775 7,11862 8,11950 9,12033 10,12090 11,12166 12,12242 13,12242 14,12469 14,11419 13,11206 12,11256 11,11225 10,11218 9,11206 8,11168 7,11123 6,11047 5,10952 4,10801 3,10573 2,10345 1,10061 0,9909"/></g>
<path class="grid" d="M169.4 2336.1H653.7M169.4 2235.2H653.7M169.4 2134.2H653.7M169.4 2033.3H653.7"/>
<g transform="matrix(31.45 0 0 -0.10092 191.4 3345.3)"><polyline class="ln" vector-effect="non-scaling-stroke" points="0,10296 1,10440 2,10675 3,10876 4,11104 5,11267 6,11388 7,11483 8,11567 9,11627 10,11661 11,11692 12,11737 13,11711 14,11938"/></g>
<path class="red" d="M490.2 1933.8V2363.5M553.1 1933.8V2363.5"/>
<g transform="matrix(31.45 0 0 -0.10092 191.4 3345.3)">
<use href="#pB5" x="0" y="10565" class="d"/><use href="#pB5" x="1" y="10486" class="d"/><use href="#pB5" x="2" y="10732" class="d"/><use href="#pB5" x="3" y="10888" class="d"/><use href="#pB5" x="4" y="10793" class="d"/><use href="#pB5" x="5" y="10964" class="d"/><use href="#pB5" x="6" y="11248" class="d"/><use href="#pB5" x="7" y="11510" class="d"/><use href="#pB5" x="8" y="11692" class="d"/><use href="#pB5" x="9" y="11874" class="d"/>
<use href="#pB5" x="10" y="11957" class="g"/>
<use href="#pB5" x="11" y="12583" class="r"/><use href="#pB5" x="12" y="13796" class="r"/><use href="#pB5" x="13" y="13368" class="r"/><use href="#pB5" x="14" y="13569" class="r"/>
</g>
<path class="ax" d="M169.4 1933.8V2363.5H653.7"/>
<path class="tm" d="M161.4 2336.1H169.4M161.4 2235.2H169.4M161.4 2134.2H169.4M161.4 2033.3H169.4"/>
<text class="yl" x="153.4" y="2344.4">10000</text><text class="yl" x="153.4" y="2243.5">11000</text><text class="yl" x="153.4" y="2142.5">12000</text><text class="yl" x="153.4" y="2041.6">13000</text>
<g transform="translate(191.4,2363.5)"><path class="tm" d="M0 0v9M62.9 0v9M125.8 0v9M188.7 0v9M251.6 0v9M314.5 0v9M377.4 0v9M440.3 0v9"/>
<text class="xl" transform="translate(10.5 33.5) rotate(-45)">2010</text><text class="xl" transform="translate(73.4 33.5) rotate(-45)">2012</text><text class="xl" transform="translate(136.3 33.5) rotate(-45)">2014</text><text class="xl" transform="translate(199.2 33.5) rotate(-45)">2016</text><text class="xl" transform="translate(262.1 33.5) rotate(-45)">2018</text><text class="xl" transform="translate(325 33.5) rotate(-45)">2020</text><text class="xl" transform="translate(387.9 33.5) rotate(-45)">2022</text><text class="xl" transform="translate(450.8 33.5) rotate(-45)">2024</text></g>
<text class="ft" x="411.5" y="1917.3">65-79 years</text>
</g>

<!-- ============ B6 ============ -->
<g>
<g transform="matrix(31.45 0 0 -0.12771 786.8 3999)"><polygon class="rib" points="0,16012 1,15721 2,15482 3,15047 4,14598 5,14208 6,13848 7,13654 8,13564 9,13573 10,13684 11,13824 12,13863 13,14133 14,14822 14,14073 13,13354 12,13144 11,13144 10,13039 9,12955 8,12964 7,13084 6,13264 5,13459 4,13848 3,14328 2,14747 1,14987 0,15317"/></g>
<path class="grid" d="M764.8 2338.8H1249.1M764.8 2211.1H1249.1M764.8 2083.4H1249.1M764.8 1955.6H1249.1"/>
<g transform="matrix(31.45 0 0 -0.12771 786.8 3999)"><polyline class="ln" vector-effect="non-scaling-stroke" points="0,15616 1,15347 2,15107 3,14657 4,14208 5,13848 6,13549 7,13339 8,13249 9,13249 10,13369 11,13489 12,13504 13,13728 14,14454"/></g>
<path class="red" d="M1085.6 1933.8V2363.5M1148.5 1933.8V2363.5"/>
<g transform="matrix(31.45 0 0 -0.12771 786.8 3999)">
<use href="#pB6" x="0" y="15556" class="d"/><use href="#pB6" x="1" y="15311" class="d"/><use href="#pB6" x="2" y="15206" class="d"/><use href="#pB6" x="3" y="14643" class="d"/><use href="#pB6" x="4" y="13908" class="d"/><use href="#pB6" x="5" y="13893" class="d"/><use href="#pB6" x="6" y="13498" class="d"/><use href="#pB6" x="7" y="13489" class="d"/><use href="#pB6" x="8" y="13348" class="d"/><use href="#pB6" x="9" y="13150" class="d"/>
<use href="#pB6" x="10" y="13201" class="g"/><use href="#pB6" x="11" y="13678" class="g"/>
<use href="#pB6" x="12" y="14738" class="r"/><use href="#pB6" x="13" y="14238" class="r"/>
<use href="#pB6" x="14" y="14741" class="g"/>
</g>
<path class="ax" d="M764.8 1933.8V2363.5H1249.1"/>
<path class="tm" d="M756.8 2338.8H764.8M756.8 2211.1H764.8M756.8 2083.4H764.8M756.8 1955.6H764.8"/>
<text class="yl" x="748.8" y="2347.1">13000</text><text class="yl" x="748.8" y="2219.4">14000</text><text class="yl" x="748.8" y="2091.7">15000</text><text class="yl" x="748.8" y="1963.9">16000</text>
<g transform="translate(786.8,2363.5)"><path class="tm" d="M0 0v9M62.9 0v9M125.8 0v9M188.7 0v9M251.6 0v9M314.5 0v9M377.4 0v9M440.3 0v9"/>
<text class="xl" transform="translate(10.5 33.5) rotate(-45)">2010</text><text class="xl" transform="translate(73.4 33.5) rotate(-45)">2012</text><text class="xl" transform="translate(136.3 33.5) rotate(-45)">2014</text><text class="xl" transform="translate(199.2 33.5) rotate(-45)">2016</text><text class="xl" transform="translate(262.1 33.5) rotate(-45)">2018</text><text class="xl" transform="translate(325 33.5) rotate(-45)">2020</text><text class="xl" transform="translate(387.9 33.5) rotate(-45)">2022</text><text class="xl" transform="translate(450.8 33.5) rotate(-45)">2024</text></g>
<text class="ft" x="1007" y="1917.3">80-89 years</text>
</g>

<!-- ============ B7 ============ -->
<g>
<g transform="matrix(31.45 0 0 -0.11749 1382.3 3303.1)"><polygon class="rib" points="0,8756 1,9309 2,9603 3,9847 4,10114 5,10296 6,10336 7,10433 8,10394 9,10401 10,10407 11,10557 12,10612 13,10450 14,10368 14,9560 13,9603 12,9808 11,9798 10,9691 9,9723 8,9743 7,9782 6,9717 5,9668 4,9456 3,9261 2,9049 1,8674 0,8153"/></g>
<path class="grid" d="M1360.3 2363.2H1844.6M1360.3 2245.7H1844.6M1360.3 2128.2H1844.6M1360.3 2010.7H1844.6"/>
<g transform="matrix(31.45 0 0 -0.11749 1382.3 3303.1)"><polyline class="ln" vector-effect="non-scaling-stroke" points="0,8463 1,8967 2,9342 3,9537 4,9798 5,9977 6,10049 7,10091 8,10042 9,10049 10,10049 11,10173 12,10199 13,10016 14,9961"/></g>
<path class="red" d="M1681.1 1933.8V2363.5M1744 1933.8V2363.5"/>
<g transform="matrix(31.45 0 0 -0.11749 1382.3 3303.1)">
<use href="#pB7" x="0" y="8544" class="d"/><use href="#pB7" x="1" y="8886" class="d"/><use href="#pB7" x="2" y="9645" class="d"/><use href="#pB7" x="3" y="9332" class="d"/><use href="#pB7" x="4" y="9612" class="d"/><use href="#pB7" x="5" y="9987" class="d"/><use href="#pB7" x="6" y="10036" class="d"/><use href="#pB7" x="7" y="10150" class="d"/><use href="#pB7" x="8" y="10134" class="d"/><use href="#pB7" x="9" y="10065" class="d"/>
<use href="#pB7" x="10" y="10003" class="g"/><use href="#pB7" x="11" y="10336" class="g"/>
<use href="#pB7" x="12" y="11492" class="r"/><use href="#pB7" x="13" y="10489" class="r"/>
<use href="#pB7" x="14" y="10352" class="g"/>
</g>
<path class="ax" d="M1360.3 1933.8V2363.5H1844.6"/>
<path class="tm" d="M1352.3 2363.2H1360.3M1352.3 2245.7H1360.3M1352.3 2128.2H1360.3M1352.3 2010.7H1360.3"/>
<text class="yl" x="1344.3" y="2371.5">8000</text><text class="yl" x="1344.3" y="2254">9000</text><text class="yl" x="1344.3" y="2136.5">10000</text><text class="yl" x="1344.3" y="2019">11000</text>
<g transform="translate(1382.3,2363.5)"><path class="tm" d="M0 0v9M62.9 0v9M125.8 0v9M188.7 0v9M251.6 0v9M314.5 0v9M377.4 0v9M440.3 0v9"/>
<text class="xl" transform="translate(10.5 33.5) rotate(-45)">2010</text><text class="xl" transform="translate(73.4 33.5) rotate(-45)">2012</text><text class="xl" transform="translate(136.3 33.5) rotate(-45)">2014</text><text class="xl" transform="translate(199.2 33.5) rotate(-45)">2016</text><text class="xl" transform="translate(262.1 33.5) rotate(-45)">2018</text><text class="xl" transform="translate(325 33.5) rotate(-45)">2020</text><text class="xl" transform="translate(387.9 33.5) rotate(-45)">2022</text><text class="xl" transform="translate(450.8 33.5) rotate(-45)">2024</text></g>
<text class="ft" x="1602.5" y="1917.3">90+ years</text>
</g>

<!-- ============ B8 ============ -->
<g>
<g transform="matrix(31.45 0 0 -0.063593 1977.8 4864)"><polygon class="rib" points="0,41787 1,41956 2,42106 3,41986 4,41866 5,41745 6,41505 7,41294 8,41143 9,41053 10,41065 11,41246 12,41264 13,41204 14,42137 14,40542 13,39621 12,39759 11,39820 10,39729 9,39741 8,39850 7,40090 6,40301 5,40542 4,40692 3,40813 2,40873 1,40692 0,40524"/></g>
<path class="grid" d="M1955.8 2320.3H2440.1M1955.8 2193.1H2440.1M1955.8 2065.9H2440.1M1955.8 1938.7H2440.1"/>
<g transform="matrix(31.45 0 0 -0.063593 1977.8 4864)"><polyline class="ln" vector-effect="non-scaling-stroke" points="0,41143 1,41294 2,41462 3,41384 4,41264 5,41143 6,40903 7,40692 8,40482 9,40391 10,40391 11,40542 12,40512 13,40391 14,41324"/></g>
<path class="red" d="M2276.6 1933.8V2363.5M2339.5 1933.8V2363.5"/>
<g transform="matrix(31.45 0 0 -0.063593 1977.8 4864)">
<use href="#pB8" x="0" y="41505" class="d"/><use href="#pB8" x="2" y="42004" class="d"/><use href="#pB8" x="3" y="41294" class="d"/><use href="#pB8" x="4" y="40391" class="d"/><use href="#pB8" x="5" y="40734" class="d"/><use href="#pB8" x="6" y="40734" class="d"/><use href="#pB8" x="7" y="40783" class="d"/><use href="#pB8" x="8" y="40843" class="d"/><use href="#pB8" x="9" y="40692" class="d"/>
<use href="#pB8" x="10" y="40620" class="g"/>
<use href="#pB8" x="11" y="42004" class="r"/><use href="#pB8" x="12" y="45777" class="r"/><use href="#pB8" x="13" y="43819" class="r"/><use href="#pB8" x="14" y="44255" class="r"/>
</g>
<path class="ax" d="M1955.8 1933.8V2363.5H2440.1"/>
<path class="tm" d="M1947.8 2320.3H1955.8M1947.8 2193.1H1955.8M1947.8 2065.9H1955.8M1947.8 1938.7H1955.8"/>
<text class="yl" x="1939.8" y="2328.6">40000</text><text class="yl" x="1939.8" y="2201.4">42000</text><text class="yl" x="1939.8" y="2074.2">44000</text><text class="yl" x="1939.8" y="1947">46000</text>
<g transform="translate(1977.8,2363.5)"><path class="tm" d="M0 0v9M62.9 0v9M125.8 0v9M188.7 0v9M251.6 0v9M314.5 0v9M377.4 0v9M440.3 0v9"/>
<text class="xl" transform="translate(10.5 33.5) rotate(-45)">2010</text><text class="xl" transform="translate(73.4 33.5) rotate(-45)">2012</text><text class="xl" transform="translate(136.3 33.5) rotate(-45)">2014</text><text class="xl" transform="translate(199.2 33.5) rotate(-45)">2016</text><text class="xl" transform="translate(262.1 33.5) rotate(-45)">2018</text><text class="xl" transform="translate(325 33.5) rotate(-45)">2020</text><text class="xl" transform="translate(387.9 33.5) rotate(-45)">2022</text><text class="xl" transform="translate(450.8 33.5) rotate(-45)">2024</text></g>
<text class="ft" x="2198" y="1917.3">Total</text>
</g>

<!-- ============ Legend ============ -->
<rect x="440" y="2486" width="1731" height="106" fill="none" stroke="#000" stroke-width="3"/>
<circle cx="493" cy="2539" r="11.7" class="d" fill-opacity="0.9" stroke="#151515" stroke-width="2.8"/>
<text class="lg" x="546" y="2551">Deaths before 2020</text>
<circle cx="928" cy="2539" r="11.7" class="g" fill-opacity="0.9" stroke="#151515" stroke-width="2.8"/>
<text class="lg" x="981" y="2531.5">Deaths on or after 2020</text>
<text class="lg" x="981" y="2567">that are not higher than expected</text>
<circle cx="1600.5" cy="2539" r="11.7" class="r" fill-opacity="0.9" stroke="#151515" stroke-width="2.8"/>
<text class="lg" x="1653.5" y="2531.5">Deaths on or after 2020</text>
<text class="lg" x="1653.5" y="2567">that are higher than expected</text>

<!-- ============ Footnote ============ -->
<text class="fn" x="2436" y="2656">The red vertical lines separate the graphs into 2010-2019, 2020-2021, and 2022-2024.</text>
<text class="fn" x="2436" y="2696">Expected deaths (black line) were estimated using mortality rates per 100,000 population (Panel A).</text>
<text class="fn" x="2436" y="2736">Panel B presents absolute death counts to illustrate the magnitude of mortality.</text>
<text class="fn" x="2436" y="2775">The increase in expected deaths from 2021 among 80-89 year-olds (Panel B) reflects Norway's WW2 birth cohort reaching this age.</text>
</svg>
</body></html>
